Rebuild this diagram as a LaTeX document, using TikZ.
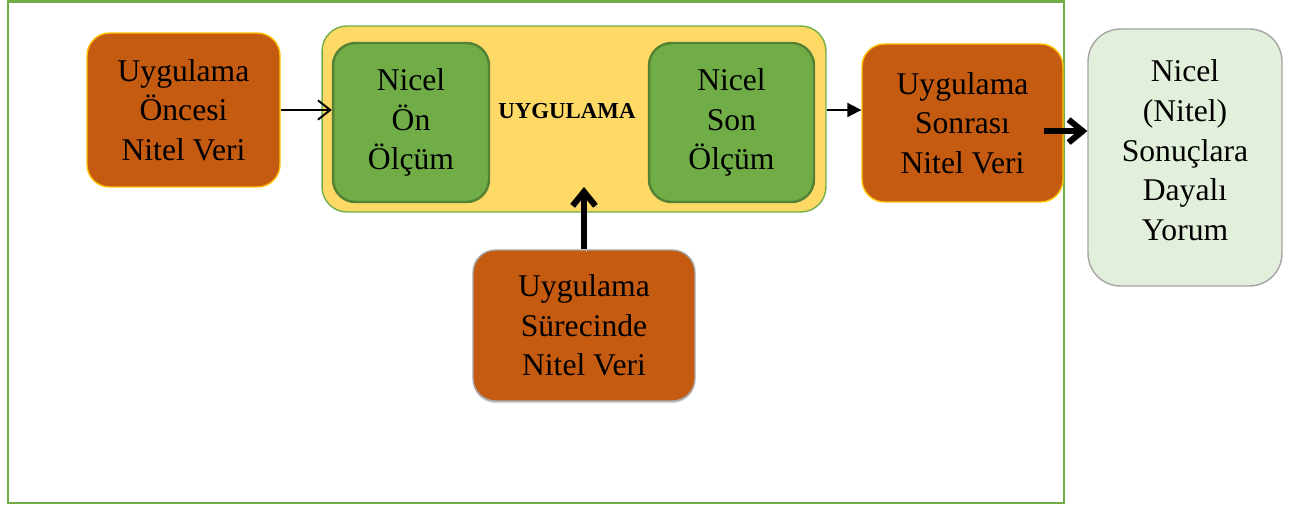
\documentclass[tikz,border=0pt]{standalone}
\usepackage{fontspec}
\setmainfont{Liberation Serif}
\usepackage{tikz}
\usetikzlibrary{arrows.meta, positioning, shadows}
\definecolor{uygorange}{HTML}{C55A11}
\definecolor{uyggold}{HTML}{FFC000}
\definecolor{uyggreen}{HTML}{70AD47}
\definecolor{uygdkgreen}{HTML}{548235}
\definecolor{uygyellow}{HTML}{FFD966}
\definecolor{uygpale}{HTML}{E2EFDA}
\definecolor{uyggray}{HTML}{A5A5A5}

\tikzset{
  databox/.style={draw=uyggold, fill=uygorange, line width=0.8pt,
                  rounded corners=0.45cm, inner sep=0pt, align=center,
                  font=\fontsize{18}{22.5}\selectfont},
  measbox/.style={draw=uygdkgreen, fill=uyggreen, line width=1.4pt,
                  rounded corners=0.45cm, inner sep=0pt, align=center,
                  font=\fontsize{18}{22.5}\selectfont},
  thinarrow/.style={line width=1.1pt},
  thickarrow/.style={line width=3.4pt,
                     preaction={draw=black!30, transform canvas={xshift=1.2pt,yshift=-1.4pt}}}
}

\begin{document}
\begin{tikzpicture}[x=0.02cm, y=-0.02cm]
\useasboundingbox (0,0) rectangle (1290,507);

% outer frame
\draw[uyggreen, line width=1.6pt] (8,1.5) rectangle (1064,503);

\node[databox, minimum width=3.86cm, minimum height=3.08cm]
  (once) at (183.5,110) {Uygulama\\Öncesi\\Nitel Veri};

\node[draw=uyggreen, fill=uygyellow, line width=0.8pt, rounded corners=0.5cm,
      minimum width=10.08cm, minimum height=3.72cm, inner sep=0pt]
  (uyg) at (574,119) {};
\node[font=\fontsize{13}{15}\selectfont\bfseries] (uyglabel) at (567,111) {UYGULAMA};

\node[measbox, minimum width=3.12cm, minimum height=3.18cm]
  (onolcum) at (411,122.5) {Nicel\\Ön\\Ölçüm};
\node[measbox, minimum width=3.3cm, minimum height=3.18cm]
  (sonolcum) at (731.5,122.5) {Nicel\\Son\\Ölçüm};

\node[databox, minimum width=4.02cm, minimum height=3.16cm]
  (sonra) at (962.5,123) {Uygulama\\Sonrası\\Nitel Veri};

\node[databox, draw=uyggray, minimum width=4.44cm, minimum height=3.02cm,
      drop shadow={shadow xshift=0pt, shadow yshift=-1.2pt, opacity=0.35}]
  (surec) at (584,325.5) {Uygulama\\Sürecinde\\Nitel Veri};

\node[databox, draw=uyggray, fill=uygpale, rounded corners=0.65cm,
      minimum width=3.88cm, minimum height=5.14cm]
  (yorum) at (1185,157.5) {Nicel\\(Nitel)\\Sonuçlara\\Dayalı\\Yorum\\[-14pt]};

% connectors
\draw[thinarrow, -{Straight Barb[length=7pt, width=11pt]}] (once.east) -- (onolcum.west |- once.east);
\draw[thinarrow, -{Triangle[length=8pt, width=8pt]}] (uyg.east |- once.east) -- (sonra.west |- once.east);
\coordinate (sonraout) at ([xshift=-0.4cm, yshift=-0.16cm]sonra.east);
\draw[thickarrow, -{Straight Barb[length=8pt, width=13pt]}] (sonraout) -- (yorum.west |- sonraout);
\coordinate (surecin) at (surec.north |- 0,187);
\draw[thickarrow, -{Straight Barb[length=8pt, width=13pt]}] (surec.north) -- (surecin);
\end{tikzpicture}
\end{document}
